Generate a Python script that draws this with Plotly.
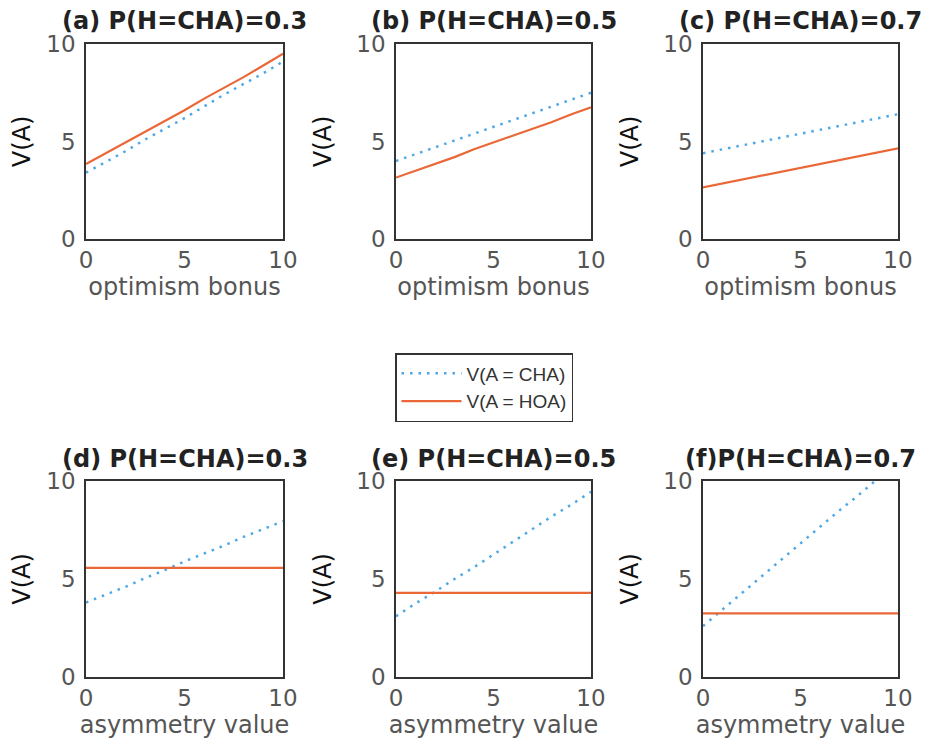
import plotly.graph_objects as go

# ---------------- data ----------------
x_vals = [0, 1, 2, 3, 4, 5, 6, 7, 8, 9, 10]

panel_titles = ["(a) P(H=CHA)=0.3", "(b) P(H=CHA)=0.5", "(c) P(H=CHA)=0.7",
                "(d) P(H=CHA)=0.3", "(e) P(H=CHA)=0.5", "(f)P(H=CHA)=0.7"]
x_titles = ["optimism bonus"] * 3 + ["asymmetry value"] * 3
series_names = ["V(A = CHA)", "V(A = HOA)"]

cha_a = [3.4, 3.95, 4.5, 5.1, 5.65, 6.2, 6.8, 7.4, 7.95, 8.5, 9.1]
hoa_a = [3.85, 4.4, 4.95, 5.5, 6.05, 6.6, 7.2, 7.75, 8.3, 8.9, 9.5]
cha_b = [4.0, 4.35, 4.7, 5.05, 5.4, 5.75, 6.1, 6.45, 6.8, 7.15, 7.5]
hoa_b = [3.15, 3.5, 3.85, 4.2, 4.6, 4.95, 5.3, 5.65, 6.0, 6.4, 6.75]
cha_c = [4.4, 4.6, 4.8, 5.0, 5.2, 5.4, 5.6, 5.8, 6.0, 6.2, 6.4]
hoa_c = [2.65, 2.85, 3.05, 3.25, 3.45, 3.65, 3.85, 4.05, 4.25, 4.45, 4.65]
cha_d = [3.8, 4.2, 4.6, 5.05, 5.45, 5.9, 6.3, 6.7, 7.15, 7.55, 7.95]
hoa_d = [5.57] * 11
cha_e = [3.1, 3.75, 4.35, 5.0, 5.6, 6.25, 6.9, 7.55, 8.2, 8.8, 9.45]
hoa_e = [4.29] * 11
cha_f = [2.6, 3.45, 4.3, 5.1, 5.95, 6.8, 7.65, 8.5, 9.3, 10.15, 11.0]
hoa_f = [3.25] * 11

cha_all = [cha_a, cha_b, cha_c, cha_d, cha_e, cha_f]
hoa_all = [hoa_a, hoa_b, hoa_c, hoa_d, hoa_e, hoa_f]

tick_vals = [0, 5, 10]
tick_text = ["0", "5", "10"]

# ---------------- styling ----------------
OFF = 8                      # page body margin of the browser
W, H = 936 - OFF, 743 - OFF  # figure fills the rest of the window
BLUE = "#4EA8E6"
ORANGE = "#EA6838"
FONT = "DejaVu Sans"

# plot areas in window pixel coords (left, right) / (top, bottom)
px_x = [(86, 283), (396, 591), (703, 898)]
px_y = [(44, 239), (481, 677)]


def fx(p):
    return (p - OFF) / W


def fy(p):
    return 1 - (p - OFF) / H


fig = go.Figure()
layout = dict(
    width=W, height=H,
    margin=dict(l=0, r=0, t=0, b=0),
    paper_bgcolor="white", plot_bgcolor="white",
    font=dict(family=FONT, color="#555555"),
    showlegend=True,
    legend=dict(x=fx(395), y=fy(353), xanchor="left", yanchor="top",
                bordercolor="#333333", borderwidth=1.5, bgcolor="white",
                font=dict(family="Liberation Sans", size=19, color="#333333"),
                itemwidth=60, tracegroupgap=0),
    annotations=[],
)

for i in range(6):
    r, c = divmod(i, 3)
    n = i + 1
    xa = "xaxis" if n == 1 else f"xaxis{n}"
    ya = "yaxis" if n == 1 else f"yaxis{n}"
    xr = "x" if n == 1 else f"x{n}"
    yr = "y" if n == 1 else f"y{n}"
    x0, x1 = px_x[c]
    y0, y1 = px_y[r]
    layout[xa] = dict(domain=[fx(x0), fx(x1)], range=[0, 10], anchor=yr,
                      automargin=False,
                      showgrid=False, zeroline=False, showline=True, mirror=True,
                      linecolor="#333333", linewidth=1.5, ticks="",
                      tickvals=tick_vals, ticktext=tick_text,
                      tickfont=dict(size=23, color="#555555"),
                      title=dict(text=x_titles[i], font=dict(size=24, color="#555555"), standoff=2))
    layout[ya] = dict(domain=[fy(y1), fy(y0)], range=[0, 10], anchor=xr,
                      automargin=False, ticklabelstandoff=4,
                      showgrid=False, zeroline=False, showline=True, mirror=True,
                      linecolor="#333333", linewidth=1.5, ticks="",
                      tickvals=tick_vals, ticktext=tick_text,
                      tickfont=dict(size=23, color="#555555"),
                      title=dict(text="V(A)", font=dict(size=24, color="#111111"), standoff=18))
    fig.add_trace(go.Scatter(x=x_vals, y=cha_all[i], mode="lines", name=series_names[0],
                             line=dict(color=BLUE, width=2.5, dash="2.5px,6px"),
                             xaxis=xr, yaxis=yr, showlegend=(i == 0)))
    fig.add_trace(go.Scatter(x=x_vals, y=hoa_all[i], mode="lines", name=series_names[1],
                             line=dict(color=ORANGE, width=2.2),
                             xaxis=xr, yaxis=yr, showlegend=(i == 0)))
    title_y = [21, 459][r]
    layout["annotations"].append(dict(
        text=panel_titles[i], xref="paper", yref="paper",
        x=fx((x0 + x1) / 2), y=fy(title_y), xanchor="center", yanchor="middle",
        showarrow=False, font=dict(family=FONT, size=24, color="#222222", weight="bold")))

fig.update_layout(**layout)
fig.write_html("out.html")
